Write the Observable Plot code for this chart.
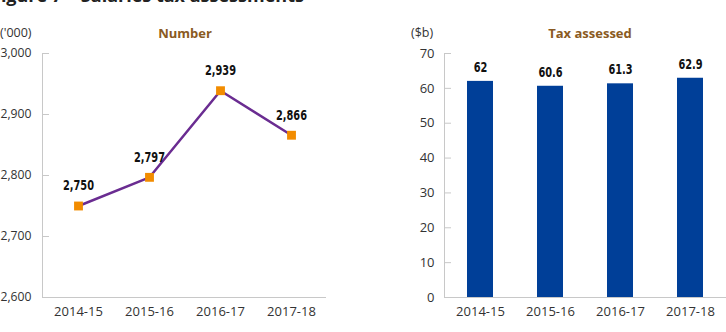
<!DOCTYPE html>
<html>
<head>
<meta charset="utf-8">
<script src="https://cdn.jsdelivr.net/npm/d3@7"></script>
<script src="https://cdn.jsdelivr.net/npm/@observablehq/plot@0.6"></script>
<style>
  body { margin: 0; background: #fff; }
  #wrap { position: relative; width: 726px; height: 332px; overflow: hidden; background: #fff;
          font-family: "Open Sans", "Noto Sans", sans-serif; color: #333; }
  .abs { position: absolute; white-space: pre; }
  .fig { left: -9px; top: -15px; font-size: 18px; font-weight: 700; color: #222; line-height: 20px; }
  .unit { font-size: 12.5px; line-height: 14px; top: 26px; color: #333; }
  .head { font-size: 13px; font-weight: 700; line-height: 14px; top: 26px; color: #8a5a22; transform: translateX(-50%); }
</style>
</head>
<body>
<div id="wrap">
  <div class="abs fig">Figure 7    Salaries tax assessments</div>
  <div id="left" class="abs" style="left:0;top:0"></div>
  <div id="right" class="abs" style="left:363px;top:0"></div>
  <div class="abs unit" style="left:0">('000)</div>
  <div class="abs head" style="left:185px">Number</div>
  <div class="abs unit" style="left:411px">($b)</div>
  <div class="abs head" style="left:590px">Tax assessed</div>
</div>
<script>
// Financial years shown on both panels
const years = ["2014-15", "2015-16", "2016-17", "2017-18"];
// Number of salaries tax assessments ('000)
const assessments = [2750, 2797, 2939, 2866];
// Salaries tax assessed ($b)
const taxAssessed = [62, 60.6, 61.3, 62.9];
// Y-axis tick values
const numberTicks = [2600, 2700, 2800, 2900, 3000];
const taxTicks = [0, 10, 20, 30, 40, 50, 60, 70];

const numberData = years.map((year, i) => ({year, value: assessments[i]}));
const taxData = years.map((year, i) => ({year, value: taxAssessed[i]}));

const axisColor = "#c8c8c8";
const labelFont = '"DejaVu Sans Condensed", "DejaVu Sans", sans-serif';
const axisFontSize = 13;
const baseStyle = {fontFamily: '"Open Sans", "Noto Sans", sans-serif', fontSize: "13px", color: "#333", background: "transparent"};

// Narrow the bold value labels to a condensed look
function condense(svg) {
  svg.querySelectorAll("g.value-labels text").forEach(t => {
    const tr = t.getAttribute("transform") || "";
    t.setAttribute("transform", tr + " scale(0.78,1)");
  });
}

const leftChart = Plot.plot({
  width: 363,
  height: 332,
  marginLeft: 42,
  marginRight: 37,
  marginTop: 53,
  marginBottom: 35,
  style: baseStyle,
  x: {type: "point", domain: years, padding: 0.5},
  y: {domain: [2600, 3000]},
  marks: [
    Plot.frame({anchor: "left", stroke: axisColor}),
    Plot.ruleY([2600], {stroke: axisColor}),
    Plot.axisY(numberTicks, {tickSize: -7, tickPadding: 18, stroke: axisColor, fill: "#333", fontSize: 12.2, tickFormat: d3.format(","), label: null}),
    Plot.axisX({tickSize: 0, tickPadding: 9, label: null, fill: "#333", fontSize: axisFontSize}),
    Plot.line(numberData, {x: "year", y: "value", stroke: "#6a2c91", strokeWidth: 2.5}),
    Plot.dot(numberData, {x: "year", y: "value", symbol: "square", r: 5, fill: "#f28c00", stroke: null}),
    Plot.text(numberData, {x: "year", y: "value", text: d => d3.format(",")(d.value), dy: -20,
      fontFamily: labelFont, fontWeight: 700, fontSize: 14, fill: "#111", className: "value-labels"})
  ]
});
condense(leftChart);
document.getElementById("left").append(leftChart);

const rightChart = Plot.plot({
  width: 363,
  height: 332,
  marginLeft: 81,
  marginRight: 0,
  marginTop: 53,
  marginBottom: 35,
  style: baseStyle,
  x: {type: "band", domain: years, paddingInner: 0.63, paddingOuter: 0.315},
  y: {domain: [0, 70]},
  marks: [
    Plot.barY(taxData, {x: "year", y: "value", fill: "#003f98"}),
    Plot.frame({anchor: "left", stroke: axisColor}),
    Plot.ruleY([0], {stroke: axisColor}),
    Plot.axisY(taxTicks, {tickSize: -7, tickPadding: 17, stroke: axisColor, fill: "#333", fontSize: axisFontSize, label: null}),
    Plot.axisX({tickSize: 0, tickPadding: 9, label: null, fill: "#333", fontSize: axisFontSize}),
    Plot.text(taxData, {x: "year", y: "value", text: d => String(d.value), dy: -14,
      fontFamily: labelFont, fontWeight: 700, fontSize: 14, fill: "#111", className: "value-labels"})
  ]
});
condense(rightChart);
document.getElementById("right").append(rightChart);
</script>
</body>
</html>
